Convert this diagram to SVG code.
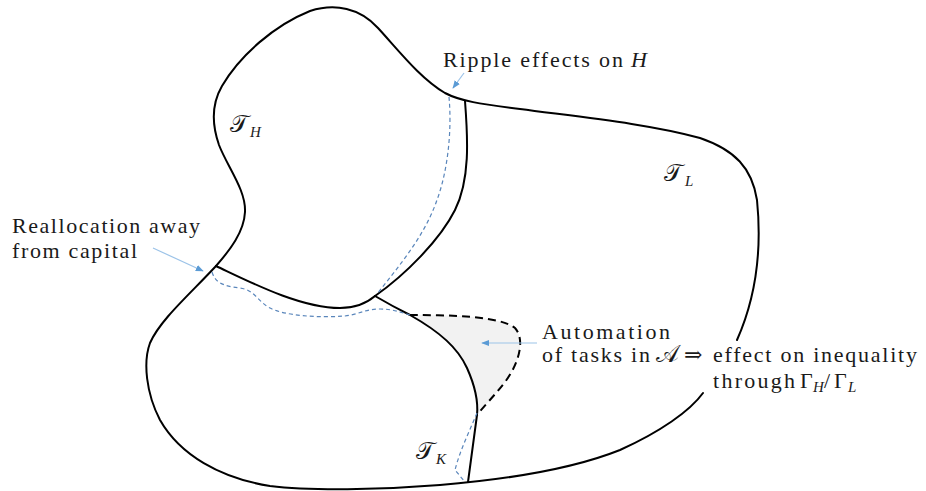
<svg xmlns="http://www.w3.org/2000/svg" width="926" height="491" viewBox="0 0 926 491">
<style>
.b{fill:none;stroke:#000;stroke-width:2;stroke-linecap:round;stroke-linejoin:round}
.bd{fill:none;stroke:#000;stroke-width:2;stroke-dasharray:8,5}
.ripple{fill:none;stroke:#5a86bb;stroke-width:1.2;stroke-dasharray:4,3}
.arr{fill:none;stroke:#9cc3e8;stroke-width:1.2}
.t{font-family:"Liberation Serif","DejaVu Serif",serif;font-size:22px;fill:#1a1a1a}
.it{font-style:italic}
.scr{font-family:"DejaVu Serif","DejaVu Sans","Noto Sans",serif;font-size:24px;fill:#1a1a1a}
.sub{font-family:"Liberation Serif","DejaVu Serif",serif;font-style:italic;font-size:15px;fill:#1a1a1a}
</style>
<defs>
<marker id="ah" viewBox="0 0 10 10" refX="9" refY="5" markerWidth="8" markerHeight="8" markerUnits="userSpaceOnUse" orient="auto">
<path d="M0,1 L10,5 L0,9 Z" fill="#5b9bd5"/>
</marker>
</defs>

<g id="shaded-region">
<path d="M410,315 C440,332 458,348 467,368 C476,388 478,405 477,415 C485,405 495,395 505,382 C518,365 526,340 515,328 C500,316 450,315 410,315 Z" fill="#f2f2f2" stroke="none"/>
</g>

<g id="outline">
<path class="b" d="M216,266 C230,250 244,232 245,212 C246,190 228,168 219,145 C212,125 211,105 222,86 C240,55 275,25 310,11 C335,3 360,8 378,28 C400,52 420,78 445,93 C460,101 480,104 520,109 C580,117 650,124 700,138 C735,150 752,168 757,200 C762,250 757,295 737,340"/>
<path class="b" d="M703,393 C690,411 660,432 620,450 C570,470 500,480 440,485 C380,490 310,491 270,486 C220,478 180,455 160,420 C146,393 143,362 150,343 C160,320 190,294 216,266"/>
</g>

<g id="partitions">
<path class="b" d="M465,101 C468,140 470,180 455,210 C440,240 405,275 375,296"/>
<path class="b" d="M216,266 C250,282 300,308 340,308 C358,308 368,302 375,296"/>
<path class="b" d="M375,296 Q392,306 410,315 C440,332 458,348 467,368 C476,388 478,405 477,415 L468,482"/>
</g>

<g id="automation-boundary">
<path class="bd" d="M410,315 C450,315 500,316 515,328 C526,340 518,365 505,382 C495,395 485,405 477,415"/>
</g>

<g id="ripple-paths">
<path class="ripple" d="M449,97 C452,130 448,170 437,200 C425,235 400,265 377,294"/>
<path class="ripple" d="M212,272 C215,282 222,286 240,288 C255,290 258,302 270,308 C285,316 320,318 345,316 C360,314 365,309 380,309 C392,309 400,312 410,315"/>
<path class="ripple" d="M477,413 C470,430 460,450 455,470 L465,482"/>
</g>

<g id="connectors">
<path class="arr" d="M464,73 L453,88" marker-end="url(#ah)"/>
<path class="arr" d="M153,248 L203,271" marker-end="url(#ah)"/>
<path class="arr" d="M537,343 L482,343" marker-end="url(#ah)"/>
</g>

<g id="label-TH">
<text class="scr" x="230" y="132">𝒯</text>
<text class="sub" x="250" y="137">H</text>
</g>
<g id="label-TL">
<text class="scr" x="664" y="181">𝒯</text>
<text class="sub" x="685" y="186">L</text>
</g>
<g id="label-TK">
<text class="scr" x="416" y="459">𝒯</text>
<text class="sub" x="436" y="464">K</text>
</g>

<g id="label-ripple">
<text class="t" x="443" y="67" textLength="180" lengthAdjust="spacing">Ripple effects on</text>
<text class="t it" x="631" y="67">H</text>
</g>

<g id="label-reallocation">
<text class="t" x="12" y="233" textLength="188" lengthAdjust="spacing">Reallocation away</text>
<text class="t" x="12" y="258" textLength="125" lengthAdjust="spacing">from capital</text>
</g>

<g id="label-automation">
<text class="t" x="542" y="339" font-size="21" textLength="128" lengthAdjust="spacing">Automation</text>
<text class="t" x="542" y="362" textLength="108" lengthAdjust="spacing">of tasks in</text>
<text class="scr" x="656" y="362" font-size="20">𝒜</text>
<text class="t" x="684" y="362" font-size="24">⇒</text>
<text class="t" x="713" y="362" textLength="204" lengthAdjust="spacing">effect on inequality</text>
<text class="t" x="713" y="388" textLength="82" lengthAdjust="spacing">through</text>
<text class="t" x="800" y="388">Γ</text>
<text class="sub" x="813" y="392">H</text>
<text class="t" x="824" y="388">/</text>
<text class="t" x="834" y="388">Γ</text>
<text class="sub" x="848" y="392">L</text>
</g>
</svg>
